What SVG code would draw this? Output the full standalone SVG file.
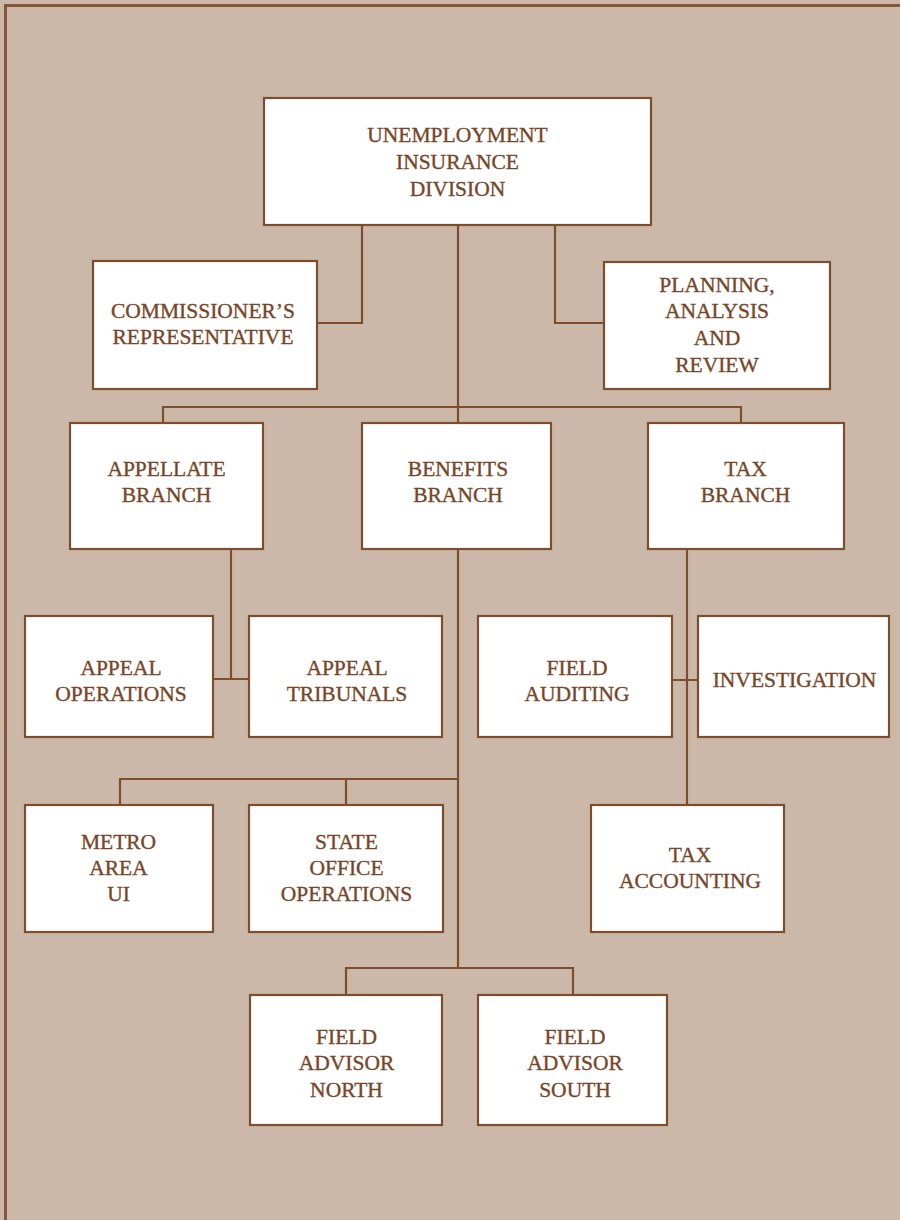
<svg xmlns="http://www.w3.org/2000/svg" width="900" height="1220" viewBox="0 0 900 1220">
<style>
.box{fill:#ffffff;stroke:#7c4e2e;stroke-width:2.2}
.ln{fill:none;stroke:#7c4e2e;stroke-width:2.2}
text{font-family:"Liberation Serif","Times New Roman",serif;font-size:21.5px;fill:#774629;stroke:#774629;stroke-width:0.35;text-anchor:middle}
</style>
<rect x="0" y="0" width="900" height="1220" fill="#cbb8a9"/>
<path d="M5.5 1220 V5.5 H900" fill="none" stroke="#85573a" stroke-width="3"/>
<g id="connectors" class="ln">
<path class="ln" d="M362 225 V323 H317"/>
<path class="ln" d="M555 225 V323 H604"/>
<path class="ln" d="M458 225 V423"/>
<path class="ln" d="M163 423 V407 H741 V423"/>
<path class="ln" d="M231 549 V679 M213 679 H249"/>
<path class="ln" d="M458 549 V968"/>
<path class="ln" d="M120 805 V779 H458 M346 779 V805"/>
<path class="ln" d="M346 995 V968 H573 V995"/>
<path class="ln" d="M687 549 V805 M672 680 H698"/>
</g>
<g id="uid"><rect class="box" x="264" y="98" width="387" height="127"/>
<text x="457.5" y="142">UNEMPLOYMENT</text><text x="457.5" y="169">INSURANCE</text><text x="457.5" y="196">DIVISION</text></g>
<g id="commissioner"><rect class="box" x="93" y="261" width="224" height="128"/>
<text x="203" y="318">COMMISSIONER’S</text><text x="203" y="344">REPRESENTATIVE</text></g>
<g id="planning"><rect class="box" x="604" y="262" width="226" height="127"/>
<text x="717" y="292">PLANNING,</text><text x="717" y="318">ANALYSIS</text><text x="717" y="345">AND</text><text x="717" y="372">REVIEW</text></g>
<g id="appellate"><rect class="box" x="70" y="423" width="193" height="126"/>
<text x="166.5" y="476">APPELLATE</text><text x="166.5" y="502">BRANCH</text></g>
<g id="benefits"><rect class="box" x="362" y="423" width="189" height="126"/>
<text x="458" y="476">BENEFITS</text><text x="458" y="502">BRANCH</text></g>
<g id="tax"><rect class="box" x="648" y="423" width="196" height="126"/>
<text x="745.5" y="476">TAX</text><text x="745.5" y="502">BRANCH</text></g>
<g id="appeal-operations"><rect class="box" x="25" y="616" width="188" height="121"/>
<text x="121" y="675">APPEAL</text><text x="121" y="701">OPERATIONS</text></g>
<g id="appeal-tribunals"><rect class="box" x="249" y="616" width="193" height="121"/>
<text x="347" y="675">APPEAL</text><text x="347" y="701">TRIBUNALS</text></g>
<g id="field-auditing"><rect class="box" x="478" y="616" width="194" height="121"/>
<text x="577" y="675">FIELD</text><text x="577" y="701">AUDITING</text></g>
<g id="investigation"><rect class="box" x="698" y="616" width="191" height="121"/>
<text x="794.5" y="687">INVESTIGATION</text></g>
<g id="metro"><rect class="box" x="25" y="805" width="188" height="127"/>
<text x="118.5" y="849">METRO</text><text x="118.5" y="875">AREA</text><text x="118.5" y="901">UI</text></g>
<g id="state-office"><rect class="box" x="249" y="805" width="194" height="127"/>
<text x="346.5" y="849">STATE</text><text x="346.5" y="875">OFFICE</text><text x="346.5" y="901">OPERATIONS</text></g>
<g id="tax-accounting"><rect class="box" x="591" y="805" width="193" height="127"/>
<text x="690" y="862">TAX</text><text x="690" y="888">ACCOUNTING</text></g>
<g id="field-advisor-north"><rect class="box" x="250" y="995" width="192" height="130"/>
<text x="346.5" y="1044">FIELD</text><text x="346.5" y="1070">ADVISOR</text><text x="346.5" y="1097">NORTH</text></g>
<g id="field-advisor-south"><rect class="box" x="478" y="995" width="189" height="130"/>
<text x="575" y="1044">FIELD</text><text x="575" y="1070">ADVISOR</text><text x="575" y="1097">SOUTH</text></g>
</svg>
